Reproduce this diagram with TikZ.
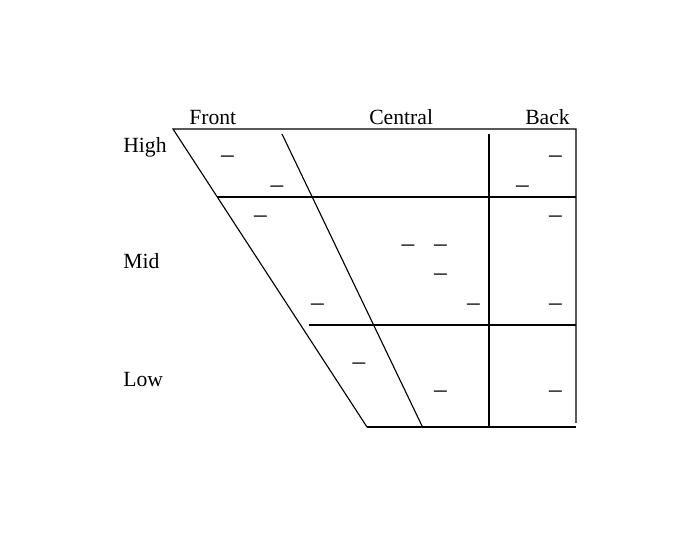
\documentclass[tikz,border=0pt]{standalone}
\usepackage{fontspec}
\setmainfont{Liberation Serif}

\begin{document}
\begin{tikzpicture}[x=0.025cm,y=-0.025cm,
  chart line/.style={line width=0.8pt,black},
  axis label/.style={anchor=base west,inner sep=0pt,font=\fontsize{15.4}{18}\selectfont},
  slot/.style={inner sep=0pt,yshift=-2.5pt,font=\fontsize{18}{20}\selectfont}]

  \useasboundingbox (0,0) rectangle (700,550);

  % Corners of the chart

  \coordinate (TL) at (173,129);
  \coordinate (TR) at (576,129);
  \coordinate (BL) at (367,427);
  \coordinate (BR) at (576,427);
  \coordinate (CT) at (282,134);
  \coordinate (CB) at (423,428);
  \coordinate (KT) at (489,134);
  \coordinate (KB) at (489,428);
  \coordinate (HL) at (217,197);
  \coordinate (HR) at (576,197);
  \coordinate (ML) at (309,325);
  \coordinate (MR) at (576,325);
  \coordinate (RB) at (576,423);

  % Frame and grid

  \draw [chart line] (BL) -- (TL) -- (TR) -- (RB);
  \draw [chart line] (BL) -- (BR);
  \draw [chart line] (CT) -- (CB);
  \draw [chart line] (KT) -- (KB);
  \draw [chart line] (HL) -- (HR);
  \draw [chart line] (ML) -- (MR);

  % Column and row labels

  \node [axis label] (front) at (189,125) {Front};
  \node [axis label] (central) at (369,125) {Central};
  \node [axis label] (back) at (525,125) {Back};
  \node [axis label] (high) at (123,153) {High};
  \node [axis label] (mid) at (123,269) {Mid};
  \node [axis label] (low) at (123,387) {Low};

  % Empty vowel slots

  \foreach \x/\y [count=\i] in {227.5/155.7, 277/185.7, 260.5/215.7,
      555.5/155.7, 522.5/185.7, 555.5/215.7,
      408/244.3, 440.5/244.3, 440.5/273.7,
      317.5/303.3, 473.5/303.3, 555.5/303.3,
      359/362.3, 440.5/391, 555.5/391}
    \node [slot] (v\i) at (\x,\y) {–};
\end{tikzpicture}
\end{document}
